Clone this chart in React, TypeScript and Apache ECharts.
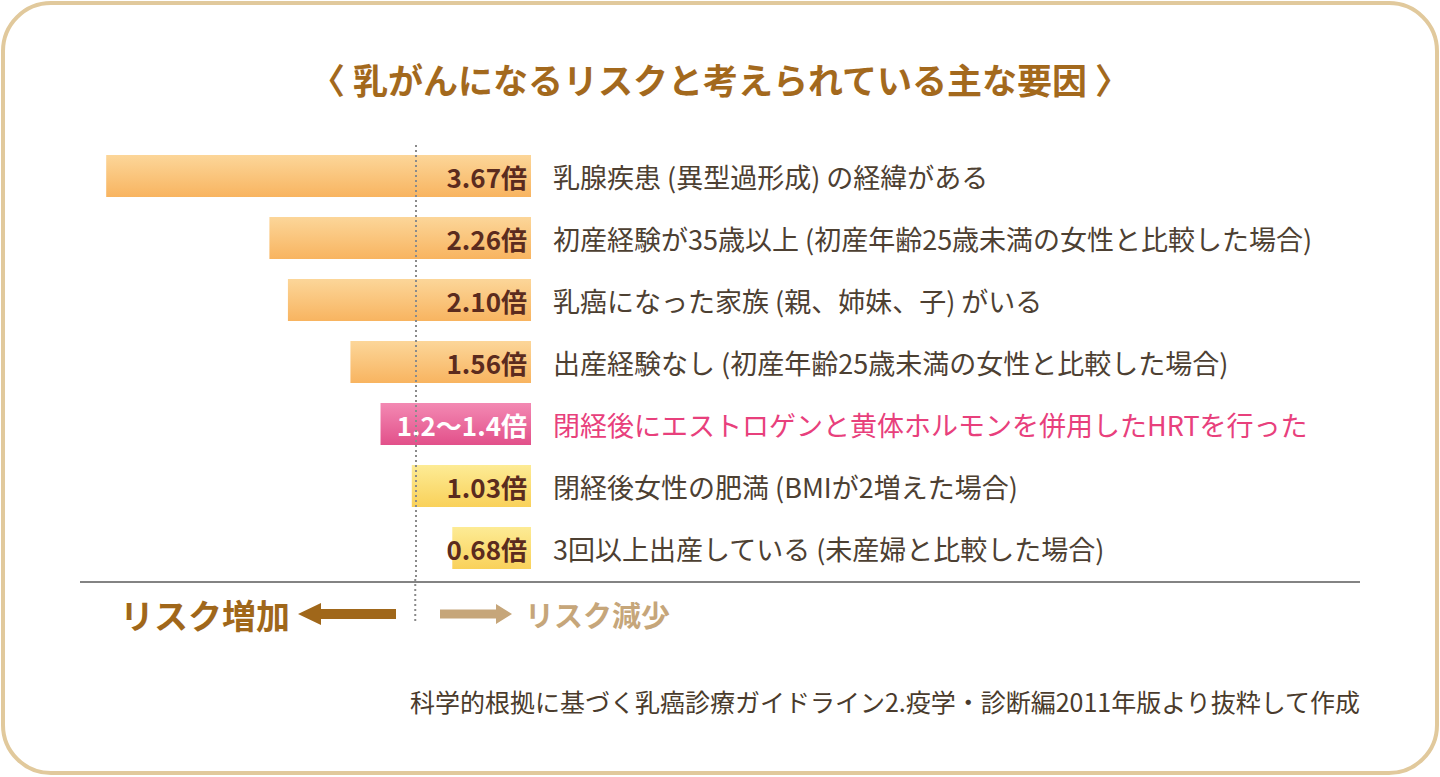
import React, { useEffect, useRef } from "react";
import * as echarts from "echarts";

const titleText = "〈 乳がんになるリスクと考えられている主な要因 〉";
const categories = [
  "乳腺疾患 (異型過形成) の経緯がある",
  "初産経験が35歳以上 (初産年齢25歳未満の女性と比較した場合)",
  "乳癌になった家族 (親、姉妹、子) がいる",
  "出産経験なし (初産年齢25歳未満の女性と比較した場合)",
  "閉経後にエストロゲンと黄体ホルモンを併用したHRTを行った",
  "閉経後女性の肥満 (BMIが2増えた場合)",
  "3回以上出産している (未産婦と比較した場合)",
];
const values = [3.67, 2.26, 2.1, 1.56, 1.3, 1.03, 0.68];
const valueLabels = ["3.67倍", "2.26倍", "2.10倍", "1.56倍", "1.2〜1.4倍", "1.03倍", "0.68倍"];
const barKinds = ["orange", "orange", "orange", "orange", "pink", "yellow", "yellow"];
const refValue = 1;
const increaseText = "リスク増加";
const decreaseText = "リスク減少";
const sourceText = "科学的根拠に基づく乳癌診療ガイドライン2.疫学・診断編2011年版より抜粋して作成";

const FONT = '"Noto Sans CJK JP", "Noto Sans", sans-serif';

const gradients: Record<string, [string, string]> = {
  orange: ["#fcd699", "#f8b460"],
  pink: ["#f389b3", "#e2508a"],
  yellow: ["#fdeb95", "#f9d15a"],
};

export default function App() {
  const ref = useRef<HTMLDivElement>(null);
  useEffect(() => {
    if (!ref.current) return;
    const chart = echarts.init(ref.current, null, { renderer: "svg" });
    chart.setOption({
      animation: false,
      title: {
        text: titleText,
        left: "center",
        top: 56,
        textStyle: { fontFamily: FONT, fontSize: 35, fontWeight: "bold", color: "#a3691d" },
      },
      grid: { left: 68, right: 909, top: 145, height: 434 },
      xAxis: {
        type: "value",
        inverse: true,
        min: 0,
        max: 4,
        axisLine: { show: false },
        axisTick: { show: false },
        axisLabel: { show: false },
        splitLine: { show: false },
      },
      yAxis: {
        type: "category",
        inverse: true,
        position: "right",
        data: categories,
        axisLine: { show: false },
        axisTick: { show: false },
        axisLabel: {
          margin: 22,
          fontFamily: FONT,
          fontSize: 27,
          color: (_v: any, i: number) => (barKinds[i] === "pink" ? "#e8407c" : "#4d4032"),
        },
      },
      series: [
        {
          type: "bar",
          barWidth: 42,
          data: values.map((v, i) => ({
            value: v,
            itemStyle: {
              color: new echarts.graphic.LinearGradient(0, 0, 0, 1, [
                { offset: 0, color: gradients[barKinds[i]][0] },
                { offset: 1, color: gradients[barKinds[i]][1] },
              ]),
            },
            label: { color: barKinds[i] === "pink" ? "#ffffff" : "#5b2b1e" },
          })),
          label: {
            show: true,
            position: "insideRight",
            distance: 4,
            fontFamily: FONT,
            fontSize: 26,
            fontWeight: "bold",
            formatter: (p: any) => valueLabels[p.dataIndex],
          },
          markLine: {
            silent: true,
            symbol: ["none", "none"],
            label: { show: false },
            lineStyle: { type: [2, 3], color: "#8a8a8a", width: 2 },
            data: [{ xAxis: refValue }],
            z: 5,
          },
        },
      ],
    });

    const xRef = chart.convertToPixel({ xAxisIndex: 0 }, refValue) as number;
    chart.setOption({
      graphic: [
        {
          type: "rect",
          z: -10,
          silent: true,
          shape: { x: 3, y: 3, width: 1434, height: 770, r: 48 },
          style: { fill: "#ffffff", stroke: "#e1c99c", lineWidth: 4 },
        },
        {
          type: "line",
          silent: true,
          shape: { x1: xRef, y1: 579, x2: xRef, y2: 622 },
          style: { stroke: "#8a8a8a", lineWidth: 2, lineDash: [2, 3] },
        },
        {
          type: "line",
          silent: true,
          shape: { x1: 80, y1: 582, x2: 1360, y2: 582 },
          style: { stroke: "#5a5a5a", lineWidth: 1.5 },
        },
        {
          type: "text",
          silent: true,
          x: 290,
          y: 614,
          style: {
            text: increaseText,
            fontFamily: FONT,
            fontSize: 34,
            fontWeight: "bold",
            fill: "#a0671a",
            textAlign: "right",
            textVerticalAlign: "middle",
          },
        },
        {
          type: "polygon",
          silent: true,
          shape: {
            points: [
              [298, 614], [321, 603], [321, 609], [396, 609], [396, 619], [321, 619], [321, 625],
            ],
          },
          style: { fill: "#a0671a" },
        },
        {
          type: "polygon",
          silent: true,
          shape: {
            points: [
              [440, 609.5], [496, 609.5], [496, 604], [512, 614], [496, 624], [496, 618.5], [440, 618.5],
            ],
          },
          style: { fill: "#c6a67a" },
        },
        {
          type: "text",
          silent: true,
          x: 525,
          y: 614,
          style: {
            text: decreaseText,
            fontFamily: FONT,
            fontSize: 29,
            fontWeight: "bold",
            fill: "#c6a67a",
            textAlign: "left",
            textVerticalAlign: "middle",
          },
        },
        {
          type: "text",
          silent: true,
          x: 1360,
          y: 701,
          style: {
            text: sourceText,
            fontFamily: FONT,
            fontSize: 25,
            fill: "#4a3b2c",
            textAlign: "right",
            textVerticalAlign: "middle",
          },
        },
      ],
    });
    return () => chart.dispose();
  }, []);
  return (
    <div
      ref={ref}
      style={{ position: "fixed", left: 0, top: 0, width: 1440, height: 777, background: "#ffffff" }}
    />
  );
}
